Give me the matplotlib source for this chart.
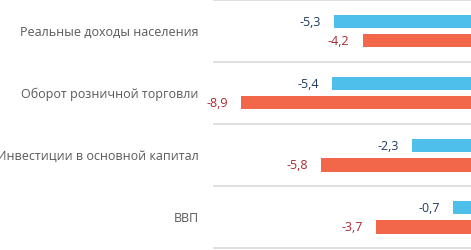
import matplotlib
matplotlib.use("Agg")
import matplotlib.pyplot as plt

categories = ["Реальные доходы населения", "Оборот розничной торговли",
              "Инвестиции в основной капитал", "ВВП"]
series_blue = [-5.3, -5.4, -2.3, -0.7]
series_red = [-4.2, -8.9, -5.8, -3.7]

blue = "#4DBFEA"
red = "#F2664A"
blue_txt = "#1F3A5F"
red_txt = "#A8282E"
label_col = "#595959"

plt.rcParams['font.family'] = ['Open Sans', 'DejaVu Sans']

fig = plt.figure(figsize=(4.71, 2.51), dpi=100)
ax = fig.add_axes([0, 0, 1, 1])
ax.set_xlim(-18.26, 0)
ax.set_ylim(3.532, -0.516)
ax.axis('off')

off = 0.161
h = 0.21
ys = list(range(len(categories)))
ax.barh([y - off for y in ys], series_blue, height=h, color=blue, align='center')
ax.barh([y + off for y in ys], series_red, height=h, color=red, align='center')

for y in [-0.5 + i for i in range(len(categories) + 1)]:
    ax.plot([-10.0, 0], [y, y], color="#D9D9D9", lw=1.2, solid_capstyle='butt')

for y, c in zip(ys, categories):
    ax.text(-10.55, y, c, ha='right', va='center', fontsize=9, color=label_col)

def fmt(v):
    return f"{v:.1f}".replace('.', ',')

for y, v in zip(ys, series_blue):
    ax.annotate(fmt(v), (v, y - off), xytext=(-9.4, 0), textcoords='offset points',
                ha='right', va='center', fontsize=9, color=blue_txt)
for y, v in zip(ys, series_red):
    ax.annotate(fmt(v), (v, y + off), xytext=(-9.4, 0), textcoords='offset points',
                ha='right', va='center', fontsize=9, color=red_txt)

fig.savefig("out.png", dpi=100)
